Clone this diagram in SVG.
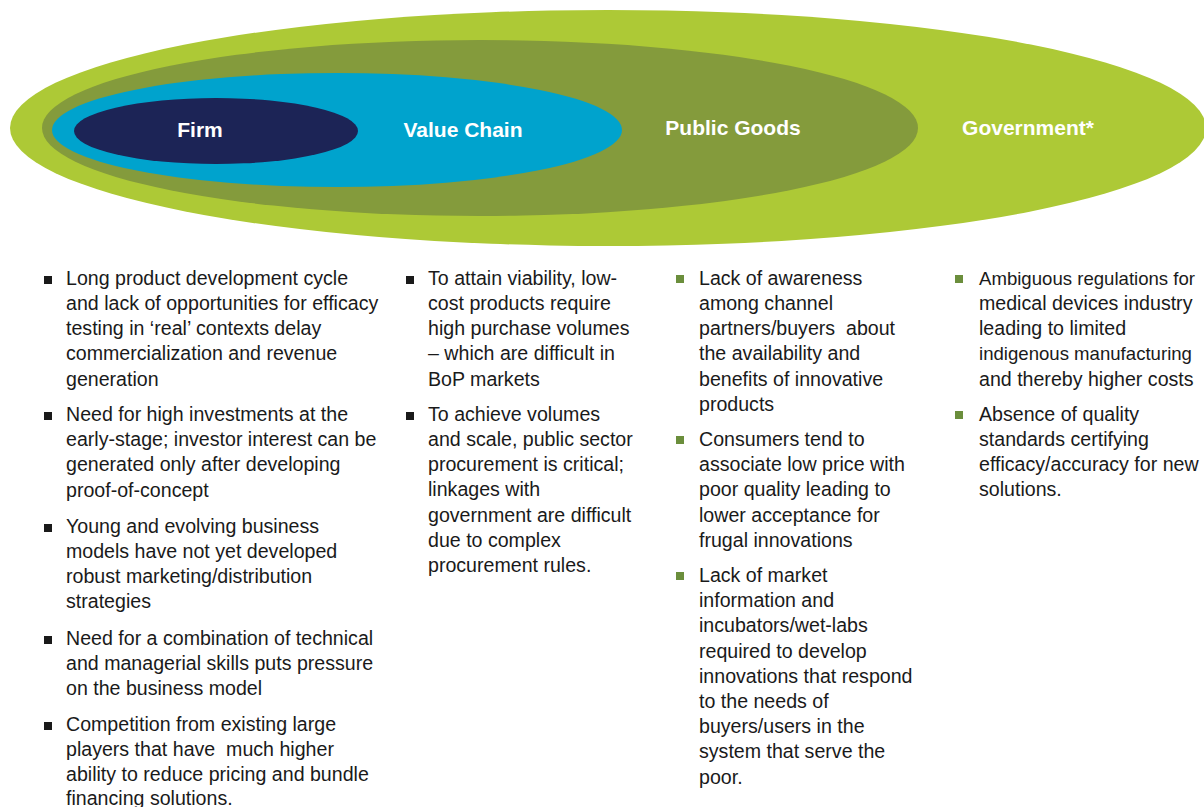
<svg xmlns="http://www.w3.org/2000/svg" width="1204" height="807" viewBox="0 0 1204 807">
<style>
.lbl{font-family:"Liberation Sans",Arial,sans-serif;font-weight:bold;font-size:21px;fill:#ffffff;text-anchor:middle}
.t{font-family:"Liberation Sans",Arial,sans-serif;font-size:19.6px;fill:#1a1a1a;white-space:pre}
.t2{font-family:"Liberation Sans",Arial,sans-serif;font-size:18.6px;fill:#1a1a1a;white-space:pre}
.bk{fill:#1a1a1a}
.gr{fill:#6b8e3c}
</style>
<rect width="1204" height="807" fill="#ffffff"/>
<g id="government"><ellipse cx="608" cy="128" rx="598" ry="118" fill="#adc936"/><text class="lbl" x="1028" y="135">Government*</text></g>
<g id="public-goods"><ellipse cx="480" cy="128" rx="438" ry="88" fill="#849b3c"/><text class="lbl" x="733" y="135">Public Goods</text></g>
<g id="value-chain"><ellipse cx="337" cy="130" rx="285" ry="57" fill="#00a3cd"/><text class="lbl" x="463" y="137">Value Chain</text></g>
<g id="firm"><ellipse cx="216" cy="131" rx="142" ry="33" fill="#1c2456"/><text class="lbl" x="200" y="137">Firm</text></g>
<g id="connectors"></g>
<g id="col-firm">
<rect class="bk" x="44" y="276" width="8" height="8"/>
<text class="t" x="66" y="285">Long product development cycle</text>
<text class="t" x="66" y="310">and lack of opportunities for efficacy</text>
<text class="t" x="66" y="335">testing in ‘real’ contexts delay</text>
<text class="t" x="66" y="360">commercialization and revenue</text>
<text class="t" x="66" y="386">generation</text>
<rect class="bk" x="44" y="412" width="8" height="8"/>
<text class="t" x="66" y="421">Need for high investments at the</text>
<text class="t" x="66" y="446">early-stage; investor interest can be</text>
<text class="t" x="66" y="471">generated only after developing</text>
<text class="t" x="66" y="497">proof-of-concept</text>
<rect class="bk" x="44" y="524" width="8" height="8"/>
<text class="t" x="66" y="533">Young and evolving business</text>
<text class="t" x="66" y="558">models have not yet developed</text>
<text class="t" x="66" y="583">robust marketing/distribution</text>
<text class="t" x="66" y="608">strategies</text>
<rect class="bk" x="44" y="636" width="8" height="8"/>
<text class="t" x="66" y="645">Need for a combination of technical</text>
<text class="t" x="66" y="670">and managerial skills puts pressure</text>
<text class="t" x="66" y="695">on the business model</text>
<rect class="bk" x="44" y="722" width="8" height="8"/>
<text class="t" x="66" y="731">Competition from existing large</text>
<text class="t" x="66" y="756">players that have  much higher</text>
<text class="t" x="66" y="781">ability to reduce pricing and bundle</text>
<text class="t" x="66" y="805">financing solutions.</text>
</g>
<g id="col-value-chain">
<rect class="bk" x="406" y="276" width="8" height="8"/>
<text class="t" x="428" y="285">To attain viability, low-</text>
<text class="t" x="428" y="310">cost products require</text>
<text class="t" x="428" y="335">high purchase volumes</text>
<text class="t" x="428" y="360">– which are difficult in</text>
<text class="t" x="428" y="386">BoP markets</text>
<rect class="bk" x="406" y="412" width="8" height="8"/>
<text class="t" x="428" y="421">To achieve volumes</text>
<text class="t" x="428" y="446">and scale, public sector</text>
<text class="t" x="428" y="471">procurement is critical;</text>
<text class="t" x="428" y="496">linkages with</text>
<text class="t" x="428" y="522">government are difficult</text>
<text class="t" x="428" y="547">due to complex</text>
<text class="t" x="428" y="572">procurement rules.</text>
</g>
<g id="col-public-goods">
<rect class="gr" x="676" y="275" width="8" height="8"/>
<text class="t" x="699" y="285">Lack of awareness</text>
<text class="t" x="699" y="310">among channel</text>
<text class="t" x="699" y="335">partners/buyers  about</text>
<text class="t" x="699" y="360">the availability and</text>
<text class="t" x="699" y="386">benefits of innovative</text>
<text class="t" x="699" y="411">products</text>
<rect class="gr" x="676" y="436" width="8" height="8"/>
<text class="t" x="699" y="446">Consumers tend to</text>
<text class="t" x="699" y="471">associate low price with</text>
<text class="t" x="699" y="496">poor quality leading to</text>
<text class="t" x="699" y="522">lower acceptance for</text>
<text class="t" x="699" y="547">frugal innovations</text>
<rect class="gr" x="676" y="572" width="8" height="8"/>
<text class="t" x="699" y="582">Lack of market</text>
<text class="t" x="699" y="607">information and</text>
<text class="t" x="699" y="632">incubators/wet-labs</text>
<text class="t" x="699" y="658">required to develop</text>
<text class="t" x="699" y="683">innovations that respond</text>
<text class="t" x="699" y="708">to the needs of</text>
<text class="t" x="699" y="733">buyers/users in the</text>
<text class="t" x="699" y="758">system that serve the</text>
<text class="t" x="699" y="784">poor.</text>
</g>
<g id="col-government">
<rect class="gr" x="955" y="275" width="8" height="8"/>
<text class="t2" x="979" y="285">Ambiguous regulations for</text>
<text class="t" x="979" y="310">medical devices industry</text>
<text class="t" x="979" y="335">leading to limited</text>
<text class="t2" x="979" y="360">indigenous manufacturing</text>
<text class="t" x="979" y="386">and thereby higher costs</text>
<rect class="gr" x="955" y="411" width="8" height="8"/>
<text class="t" x="979" y="421">Absence of quality</text>
<text class="t" x="979" y="446">standards certifying</text>
<text class="t" x="979" y="471">efficacy/accuracy for new</text>
<text class="t" x="979" y="496">solutions.</text>
</g>
</svg>
